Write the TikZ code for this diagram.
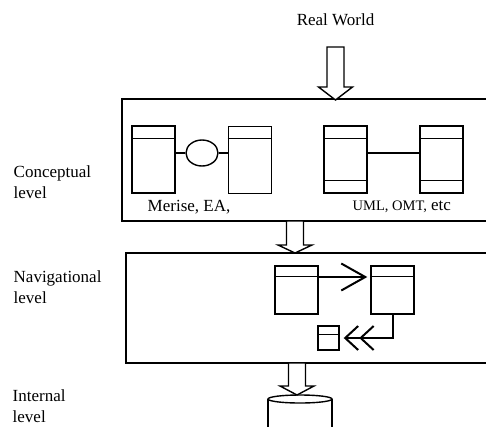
\documentclass[tikz,border=0pt]{standalone}
\usepackage{fontspec}
\setmainfont{Liberation Serif}
\usetikzlibrary{shapes.geometric,arrows.meta}
\tikzset{
  entity/.style={draw,line width=1.4pt,minimum width=43pt,minimum height=67pt,inner sep=0pt},
  navent/.style={entity,minimum height=48pt},
  lvl/.style={align=left,anchor=west,inner sep=0pt},
  link/.style={line width=2pt}
}

\begin{document}
\begin{tikzpicture}[x=1pt,y=-1pt,line width=1.4pt,font=\fontsize{17}{21}\selectfont]
  \useasboundingbox (0,0) rectangle (486,426);
  \clip (0,0) rectangle (486,426);
  \node (real) at (335.5,20) {Real World};
  \node[lvl] (conc) at (13,182.5) {Conceptual\\level};
  \node[lvl] (navi) at (13,287) {Navigational\\level};
  \node[lvl] (intl) at (12,406.5) {Internal\\level};
  \draw (122,99) rectangle (500,221);
  \draw (126,253) rectangle (500,363);
  % conceptual level
  \node[entity] (e1) at (153.5,159.5) {};
  \node[entity,line width=0.8pt] (e2) at (249.5,159.5) {};
  \node[entity] (e3) at (345.5,159.5) {};
  \node[entity] (e4) at (441.5,159.5) {};
  \node[draw,ellipse,minimum width=32pt,minimum height=26pt,inner sep=0pt] (rel) at (202,153) {};
  \draw (e1.north west) ++(0,13) -- ++(43,0);
  \draw[line width=0.8pt] (e2.north west) ++(0,13) -- ++(43,0);
  \foreach \e in {e3,e4} {
    \draw (\e.north west) ++(0,13) -- ++(43,0);
    \draw (\e.south west) ++(0,-13) -- ++(43,0);
  }
  \draw (rel.west) -- (rel.west -| e1.east);
  \draw (rel.east) -- (rel.east -| e2.west);
  \draw ([yshift=6.5pt]e3.east) -- ([yshift=6.5pt]e4.west);
  \node[anchor=west,inner sep=0pt] (merise) at (147,207) {Merise, EA,};
  \node[anchor=west,inner sep=0pt] (uml) at (352,207) {{\fontsize{14.5}{16}\selectfont UML, OMT,} etc};
  % navigational level
  \node[navent] (na) at (296.5,290) {};
  \node[navent] (nb) at (392.5,290) {};
  \node[draw,minimum width=21pt,minimum height=24pt,inner sep=0pt] (nc) at (328.5,338) {};
  \foreach \e in {na,nb}
    \draw (\e.north west) ++(0,11) -- ++(43,0);
  \draw (nc.north west) ++(0,9) -- ++(21,0);
  \draw[link,-{Straight Barb[length=24pt,width=27pt]}] ([yshift=13pt]na.east) -- ([yshift=13pt,xshift=-3pt]nb.west);
  \draw[link,-{Straight Barb[length=13pt,width=24pt] Straight Barb[length=13pt,width=24pt]}]
    (nb.south) |- ([xshift=4pt]nc.east);
  % internal level
  \draw (300,399) ellipse [x radius=32, y radius=4];
  \draw (268,399) -- (268,430);
  \draw (332,399) -- (332,430);
  \foreach \x/\t/\b/\e in {335.5/47/87/100, 295/221/245/253, 297/363/386/395}
    \draw[fill=white] (\x-8.5,\t) -- (\x+8.5,\t) -- (\x+8.5,\b) -- (\x+17,\b)
      -- (\x,\e) -- (\x-17,\b) -- (\x-8.5,\b) -- cycle;
\end{tikzpicture}
\end{document}
